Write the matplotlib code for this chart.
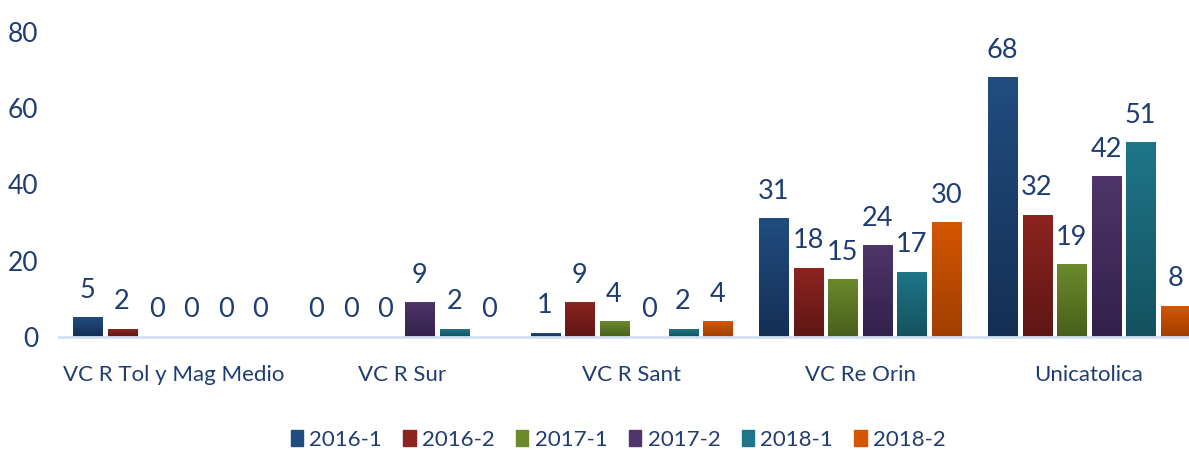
import numpy as np
import matplotlib
matplotlib.use('Agg')
import matplotlib.pyplot as plt
from matplotlib.colors import LinearSegmentedColormap
from matplotlib.patches import Rectangle

plt.rcParams['font.family'] = ['Lato', 'DejaVu Sans']

# data
categories = ['VC R Tol y Mag Medio', 'VC R Sur', 'VC R Sant', 'VC Re Orin', 'Unicatolica']
series = ['2016-1', '2016-2', '2017-1', '2017-2', '2018-1', '2018-2']
values = [
    [5, 0, 1, 31, 68],    # 2016-1
    [2, 0, 9, 18, 32],    # 2016-2
    [0, 0, 4, 15, 19],    # 2017-1
    [0, 9, 0, 24, 42],    # 2017-2
    [0, 2, 2, 17, 51],    # 2018-1
    [0, 0, 4, 30, 8],     # 2018-2
]
yticks = [0, 20, 40, 60, 80]

# colores (arriba, abajo) para el degradado
colors_top = ['#204d80', '#8c2421', '#6b8a2b', '#4f3569', '#1e7688', '#d45600']
colors_bot = ['#152e54', '#5e1614', '#485f1c', '#32214a', '#14515e', '#9f3e02']
txt = '#1f3d72'

fig = plt.figure(figsize=(11.89, 4.5), dpi=100)
ax = fig.add_axes([59.4/1189, 113/450, 1143.8/1189, 305/450])

x = np.arange(len(categories))
step = 0.1508
w = 0.127
grad = np.linspace(1, 0, 256).reshape(-1, 1)

for i, s in enumerate(series):
    xs = x + (i - 2.5) * step
    cmap = LinearSegmentedColormap.from_list(s, [colors_bot[i], colors_top[i]])
    bars = ax.bar(xs, values[i], width=w, color='none', label=s)
    for b, v in zip(bars, values[i]):
        if v > 0:
            x0 = b.get_x()
            ax.imshow(grad, extent=[x0, x0 + w, 0, v], cmap=cmap, aspect='auto',
                      vmin=0, vmax=1, zorder=2)
        ax.annotate(str(v), xy=(b.get_x() + w / 2, v), xytext=(0, 14.4),
                    textcoords='offset points', ha='center', va='baseline',
                    fontsize=19.5, color=txt)

ax.set_xlim(-0.5, len(categories) - 0.5)
ax.set_ylim(0, 80)
ax.set_yticks(yticks)
ax.set_xticks(x)
ax.set_xticklabels(categories)
ax.tick_params(axis='y', length=0, pad=15, labelsize=19, labelcolor=txt)
ax.tick_params(axis='x', length=0, pad=20, labelsize=16, labelcolor=txt)
for sp in ['top', 'right', 'left']:
    ax.spines[sp].set_visible(False)
ax.spines['bottom'].set_color('#d3e0f1')
ax.spines['bottom'].set_linewidth(2)

handles = [Rectangle((0, 0), 1, 1, color=colors_top[i]) for i in range(len(series))]
fig.legend(handles, series, loc='center', bbox_to_anchor=(0.52, 0.022), ncol=6,
           frameon=False, fontsize=16, labelcolor=txt, handlelength=0.55,
           handleheight=0.75, handletextpad=0.3, columnspacing=0.95)

plt.savefig('out.png', dpi=100)
